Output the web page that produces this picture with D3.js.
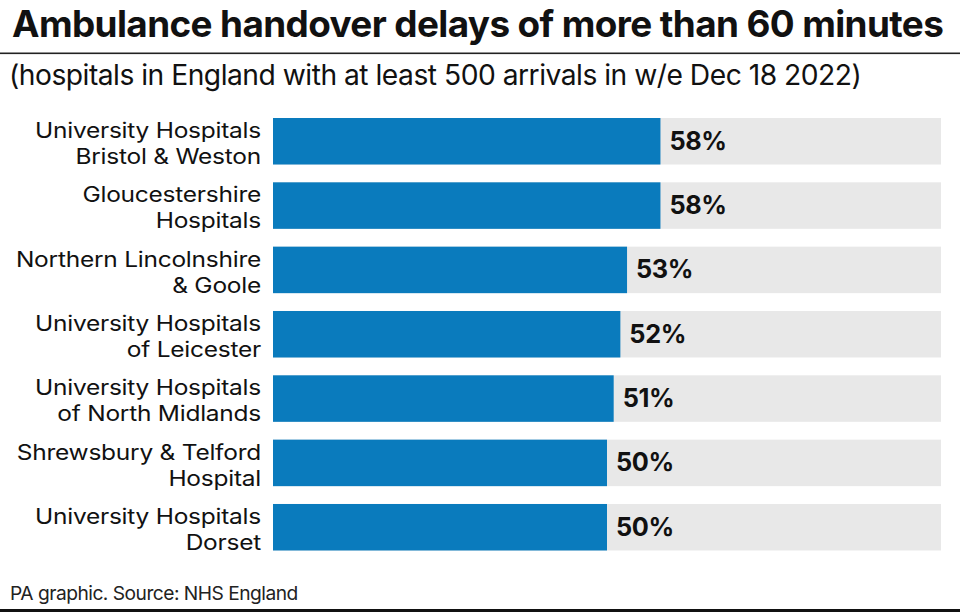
<!DOCTYPE html>
<html><head><meta charset="utf-8">
<script src="https://cdn.jsdelivr.net/npm/d3@7"></script>
<style>
html,body{margin:0;padding:0;background:#fff;}
svg{display:block;font-family:Inter,"Noto Sans",sans-serif;}
</style></head>
<body>
<svg id="c" width="960" height="614"></svg>
<script>
const titleText = "Ambulance handover delays of more than 60 minutes";
const subtitleText = "(hospitals in England with at least 500 arrivals in w/e Dec 18 2022)";
const sourceText = "PA graphic. Source: NHS England";
const categories = [
  ["University Hospitals","Bristol & Weston"],
  ["Gloucestershire","Hospitals"],
  ["Northern Lincolnshire","& Goole"],
  ["University Hospitals","of Leicester"],
  ["University Hospitals","of North Midlands"],
  ["Shrewsbury & Telford","Hospital"],
  ["University Hospitals","Dorset"]
];
const values = [58, 58, 53, 52, 51, 50, 50];
const maxValue = 100;

const svg = d3.select("#c");
const blue = "#0a7bbd", grey = "#e8e8e8";

function fitWidth(sel, w){
  const node = sel.node();
  const len = node.getComputedTextLength();
  const fs = parseFloat(sel.attr("font-size"));
  sel.attr("font-size", fs * w / len);
}

// title
const t = svg.append("text").attr("x",12).attr("y",37).attr("font-size",35)
  .attr("font-weight",700).attr("fill","#111").attr("letter-spacing",-0.6).text(titleText);
fitWidth(t, 930);
svg.append("rect").attr("x",0).attr("y",52.5).attr("width",960).attr("height",1.6).attr("fill","#222");
const st = svg.append("text").attr("x",9).attr("y",85).attr("font-size",27)
  .attr("fill","#111").attr("letter-spacing",-0.5).text(subtitleText);
fitWidth(st, 851);

const barH = 46.5, step = 64.33;
const x = d3.scaleLinear().domain([0, maxValue]).range([273, 941]);
const y = d3.scaleBand().domain(d3.range(values.length))
  .range([118, 118 + step*(values.length-1) + barH])
  .paddingInner((step-barH)/step).paddingOuter(0);

// label font: fixed size; glyphs widened to match reference width
const labelFs = 21.3, labelLs = -0.2;
const probe = svg.append("text").attr("font-size",labelFs).attr("letter-spacing",labelLs).text("University Hospitals");
const widen = 226 / probe.node().getComputedTextLength();
probe.remove();
const probe2 = svg.append("text").attr("font-size",22).attr("font-weight",700).attr("letter-spacing",-0.4).text("58%");
const valFs = 22 * 57 / probe2.node().getComputedTextLength();
probe2.remove();

const rows = svg.append("g").selectAll("g").data(values).join("g");
rows.append("rect").attr("x", x(0)).attr("y",(d,i)=>y(i)).attr("width", x(maxValue)-x(0))
  .attr("height", y.bandwidth()).attr("fill", grey);
rows.append("rect").attr("x", x(0)).attr("y",(d,i)=>y(i)).attr("width", d=>x(d)-x(0))
  .attr("height", y.bandwidth()).attr("fill", blue);
rows.append("text").attr("x", d=>x(d)+9).attr("y",(d,i)=>y(i)+y.bandwidth()/2+8.5)
  .attr("font-size",valFs).attr("font-weight",700).attr("fill","#111").attr("letter-spacing",-0.4)
  .text(d=>d+"%");
rows.each(function(d,i){
  const g = d3.select(this);
  categories[i].forEach((line,j)=>{
    const tx = g.append("text").attr("text-anchor","end").attr("font-size",labelFs).attr("fill","#111")
      .attr("letter-spacing",labelLs)
      .attr("x",261).attr("y", y(i)+20+26*j).text(line);
    const w = tx.node().getComputedTextLength();
    tx.attr("textLength", w*widen).attr("lengthAdjust","spacingAndGlyphs");
  });
});

const src = svg.append("text").attr("x",10).attr("y",600).attr("font-size",18).attr("fill","#222")
  .attr("letter-spacing",-0.5).text(sourceText);
fitWidth(src, 287);
svg.append("rect").attr("x",0).attr("y",609).attr("width",960).attr("height",3).attr("fill","#111");
</script>
</body></html>
